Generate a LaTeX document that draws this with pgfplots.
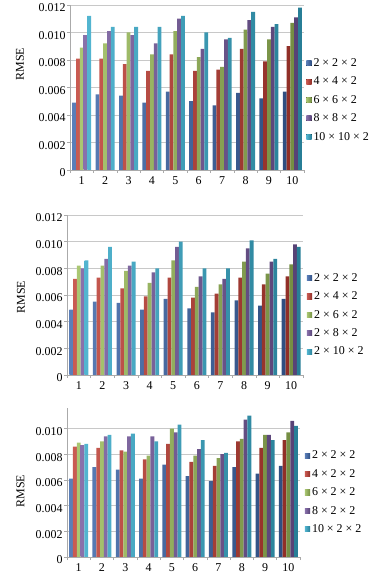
\documentclass[border=0pt]{standalone}
\usepackage{fontspec}
\setmainfont{Liberation Serif}
\usepackage{pgfplots}
\usepackage{pgfplotstable}
\pgfplotsset{compat=1.18}

\definecolor{cA}{RGB}{62,104,172}
\definecolor{cB}{RGB}{192,62,52}
\definecolor{cC}{RGB}{155,189,89}
\definecolor{cD}{RGB}{116,88,156}
\definecolor{cE}{RGB}{52,168,200}
\definecolor{gridc}{RGB}{200,200,200}
\definecolor{axc}{RGB}{170,170,170}

\pgfplotstableread{
g a b c d e
1 0.0049 0.0081 0.0089 0.0098 0.0112
2 0.0055 0.0081 0.0092 0.0101 0.0104
3 0.0054 0.0077 0.0100 0.0098 0.0104
4 0.0049 0.0072 0.0084 0.0092 0.0104
5 0.0057 0.0084 0.0101 0.0110 0.0112
6 0.0050 0.0072 0.0082 0.0088 0.0100
7 0.0047 0.0073 0.0075 0.0095 0.0096
8 0.0056 0.0088 0.0102 0.0109 0.0115
9 0.0052 0.0079 0.0095 0.0104 0.0106
10 0.0057 0.0090 0.0107 0.0111 0.0118
}\tabA

\pgfplotstableread{
g a b c d e
1 0.0049 0.0072 0.0082 0.0080 0.0086
2 0.0055 0.0073 0.0082 0.0087 0.0096
3 0.0054 0.0065 0.0078 0.0082 0.0085
4 0.0049 0.0059 0.0069 0.0077 0.0080
5 0.0057 0.0073 0.0086 0.0096 0.0100
6 0.0050 0.0058 0.0066 0.0074 0.0080
7 0.0047 0.0061 0.0068 0.0072 0.0080
8 0.0056 0.0073 0.0085 0.0095 0.0101
9 0.0052 0.0068 0.0076 0.0085 0.0087
10 0.0057 0.0074 0.0083 0.0098 0.0096
}\tabB

\pgfplotstableread{
g a b c d e
1 0.0061 0.0086 0.0089 0.0087 0.0088
2 0.0070 0.0085 0.0090 0.0094 0.0095
3 0.0068 0.0083 0.0082 0.0094 0.0096
4 0.0061 0.0076 0.0079 0.0094 0.0090
5 0.0072 0.0088 0.0100 0.0097 0.0103
6 0.0063 0.0074 0.0079 0.0084 0.0091
7 0.0059 0.0071 0.0077 0.0080 0.0081
8 0.0070 0.0090 0.0092 0.0107 0.0110
9 0.0065 0.0085 0.0095 0.0095 0.0091
10 0.0071 0.0091 0.0097 0.0106 0.0102
}\tabC

\newcommand{\lf}{\fontsize{12}{14}\selectfont}

\pgfplotsset{
  panel/.style={
    scale only axis,
    ybar=0pt, bar width=3.8bp,
    xmin=0.5, xmax=10.5, ymin=0,
    scaled y ticks=false,
    xtick={1,2,3,4,5,6,7,8,9,10},
    xticklabels={{\lf 1},{\lf 2},{\lf 3},{\lf 4},{\lf 5},{\lf 6},{\lf 7},{\lf 8},{\lf 9},{\lf 10}},
    minor xtick={0.5,1.5,2.5,3.5,4.5,5.5,6.5,7.5,8.5,9.5,10.5},
    major x tick style={draw=none},
    ymajorgrids, grid style={draw=gridc, line width=0.7pt},
    axis x line*=bottom, axis y line*=left,
    axis line style={draw=axc, line width=0.7pt, -},
    tick style={draw=axc, line width=0.6pt},
    tick align=outside,
    major tick length=3bp, minor tick length=3bp,
    font=\lf,
    yticklabel style={font=\lf, yshift=-3bp, xshift=2bp},
    xticklabel style={font=\lf},
    ylabel={\lf RMSE},
    legend cell align=left,
    legend style={draw=none, fill=none, inner sep=0pt, row sep=5pt,
      font=\lf, anchor=west},
    legend image code/.code={\fill[##1] (0bp,-2.6bp) rectangle (5.2bp,2.6bp);},
    every axis plot/.append style={draw=none},
  }
}

\begin{document}
\begin{tikzpicture}
\useasboundingbox (0,0) rectangle (381bp,579bp);

% Panel 1
\begin{axis}[panel,
  at={(70bp,409bp)}, anchor=south west,
  width=234bp, height=165bp, ymax=0.012,
  ytick={0,0.002,0.004,0.006,0.008,0.010,0.012},
  yticklabels={{\lf 0},{\lf 0.002},{\lf 0.004},{\lf 0.006},{\lf 0.008},{\lf 0.010},{\lf 0.012}},
  ylabel style={at={(axis description cs:-0.214,0.642)}, anchor=center},
  legend style={at={(1.009,0.424)}},
]
\addplot[left color=cA!85!white, right color=cA!75!black] table[x=g,y=a]{\tabA};
\addplot[left color=cB!85!white, right color=cB!75!black] table[x=g,y=b]{\tabA};
\addplot[left color=cC!85!white, right color=cC!75!black] table[x=g,y=c]{\tabA};
\addplot[left color=cD!85!white, right color=cD!75!black] table[x=g,y=d]{\tabA};
\addplot[left color=cE!85!white, right color=cE!75!black] table[x=g,y=e]{\tabA};
\legend{2 × 2 × 2, 4 × 4 × 2, 6 × 6 × 2, 8 × 8 × 2, 10 × 10 × 2}
\end{axis}

% Panel 2
\begin{axis}[panel,
  at={(67bp,204bp)}, anchor=south west,
  width=236bp, height=160bp, ymax=0.012,
  ytick={0,0.002,0.004,0.006,0.008,0.010,0.012},
  yticklabels={{\lf 0},{\lf 0.002},{\lf 0.004},{\lf 0.006},{\lf 0.008},{\lf 0.010},{\lf 0.012}},
  ylabel style={at={(axis description cs:-0.195,0.4875)}, anchor=center},
  legend style={at={(1.016,0.375)}},
]
\addplot[left color=cA!85!white, right color=cA!75!black] table[x=g,y=a]{\tabB};
\addplot[left color=cB!85!white, right color=cB!75!black] table[x=g,y=b]{\tabB};
\addplot[left color=cC!85!white, right color=cC!75!black] table[x=g,y=c]{\tabB};
\addplot[left color=cD!85!white, right color=cD!75!black] table[x=g,y=d]{\tabB};
\addplot[left color=cE!85!white, right color=cE!75!black] table[x=g,y=e]{\tabB};
\legend{2 × 2 × 2, 2 × 4 × 2, 2 × 6 × 2, 2 × 8 × 2, 2 × 10 × 2}
\end{axis}

% Panel 3
\begin{axis}[panel,
  at={(67bp,22bp)}, anchor=south west,
  width=233bp, height=149bp, ymax=0.0116,
  ytick={0,0.002,0.004,0.006,0.008,0.010},
  yticklabels={{\lf 0},{\lf 0.002},{\lf 0.004},{\lf 0.006},{\lf 0.008},{\lf 0.010}},
  ylabel style={at={(axis description cs:-0.2,0.443)}, anchor=center},
  legend style={at={(1.02,0.433)}},
]
\addplot[left color=cA!85!white, right color=cA!75!black] table[x=g,y=a]{\tabC};
\addplot[left color=cB!85!white, right color=cB!75!black] table[x=g,y=b]{\tabC};
\addplot[left color=cC!85!white, right color=cC!75!black] table[x=g,y=c]{\tabC};
\addplot[left color=cD!85!white, right color=cD!75!black] table[x=g,y=d]{\tabC};
\addplot[left color=cE!85!white, right color=cE!75!black] table[x=g,y=e]{\tabC};
\legend{2 × 2 × 2, 4 × 2 × 2, 6 × 2 × 2, 8 × 2 × 2, 10 × 2 × 2}
\end{axis}
\end{tikzpicture}
\end{document}
